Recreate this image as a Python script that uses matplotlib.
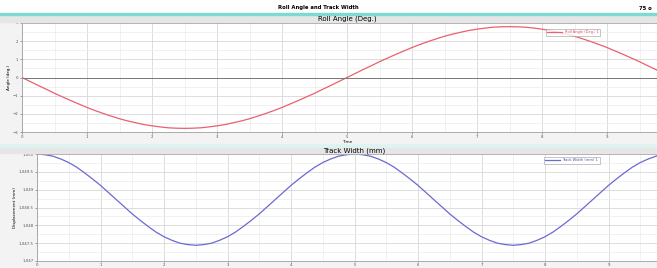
import matplotlib.pyplot as plt
from matplotlib.ticker import MultipleLocator
from matplotlib.patches import Rectangle

# valores, cada 0.125 s
time = [i * 0.125 for i in range(81)]
roll_deg = [0, -0.22, -0.44, -0.65, -0.87, -1.07, -1.27, -1.46, -1.65, -1.82, -1.98,
            -2.13, -2.27, -2.39, -2.49, -2.59, -2.66, -2.72, -2.77, -2.79, -2.80,
            -2.79, -2.77, -2.72, -2.66, -2.59, -2.49, -2.39, -2.27, -2.13, -1.98,
            -1.82, -1.65, -1.46, -1.27, -1.07, -0.87, -0.65, -0.44, -0.22, 0,
            0.22, 0.44, 0.65, 0.87, 1.07, 1.27, 1.46, 1.65, 1.82, 1.98,
            2.13, 2.27, 2.39, 2.49, 2.59, 2.66, 2.72, 2.77, 2.79, 2.80,
            2.79, 2.77, 2.72, 2.66, 2.59, 2.49, 2.39, 2.27, 2.13, 1.98,
            1.82, 1.65, 1.46, 1.27, 1.07, 0.87, 0.65, 0.44, 0.22, 0]
track_mm = [1050.00, 1049.98, 1049.94, 1049.86, 1049.76, 1049.63, 1049.47, 1049.30, 1049.12, 1048.92, 1048.72,
            1048.52, 1048.32, 1048.14, 1047.97, 1047.81, 1047.68, 1047.58, 1047.50, 1047.46, 1047.44,
            1047.46, 1047.50, 1047.58, 1047.68, 1047.81, 1047.97, 1048.14, 1048.32, 1048.52, 1048.72,
            1048.92, 1049.12, 1049.30, 1049.47, 1049.63, 1049.76, 1049.86, 1049.94, 1049.98, 1050.00,
            1049.98, 1049.94, 1049.86, 1049.76, 1049.63, 1049.47, 1049.30, 1049.12, 1048.92, 1048.72,
            1048.52, 1048.32, 1048.14, 1047.97, 1047.81, 1047.68, 1047.58, 1047.50, 1047.46, 1047.44,
            1047.46, 1047.50, 1047.58, 1047.68, 1047.81, 1047.97, 1048.14, 1048.32, 1048.52, 1048.72,
            1048.92, 1049.12, 1049.30, 1049.47, 1049.63, 1049.76, 1049.86, 1049.94, 1049.98, 1050.00]
x_ticks = list(range(10))
roll_ticks = [3, 2, 1, 0, -1, -2, -3]
track_ticks = [1050, 1049.5, 1049, 1048.5, 1048, 1047.5, 1047]
track_labels = ['1,050', '1,049.5', '1,049', '1,048.5', '1,048', '1,047.5', '1,047']

W, H = 657, 268
fig = plt.figure(figsize=(W / 100, H / 100), dpi=100, facecolor='#f3f3f3')

def fx(px):
    return px / W

def fy(py):
    return 1 - py / H

# franja superior blanca + linea cian
fig.patches.append(Rectangle((0, fy(13)), 1, 13 / H, transform=fig.transFigure, color='white', zorder=0))
fig.patches.append(Rectangle((0, fy(15)), 1, 2 / H, transform=fig.transFigure, color='#7fd9d2', zorder=1))
fig.text(fx(318), fy(8), 'Roll Angle and Track Width', fontsize=3.8, fontweight='bold', ha='center', va='center')
fig.text(fx(639), fy(8), '75 o', fontsize=3.8, fontweight='bold', ha='left', va='center')

# bandas de titulo
fig.patches.append(Rectangle((0, fy(22)), 1, 7 / H, transform=fig.transFigure, color='#e6e6e6', zorder=0))
fig.patches.append(Rectangle((0, fy(148)), 1, 4 / H, transform=fig.transFigure, color='#dff3f1', zorder=0))
fig.patches.append(Rectangle((0, fy(153)), 1, 5 / H, transform=fig.transFigure, color='#e6e6e6', zorder=0))
fig.text(fx(347), fy(18.5), 'Roll Angle (Deg.)', fontsize=5, ha='center', va='center')
fig.text(fx(354), fy(150.5), 'Track Width (mm)', fontsize=5, ha='center', va='center')


def style(ax):
    ax.set_facecolor('white')
    ax.set_xlim(0, 10)
    ax.set_xticks(x_ticks)
    ax.xaxis.set_minor_locator(MultipleLocator(0.5))
    ax.grid(which='major', color='#d8d8d8', lw=0.6)
    ax.grid(which='minor', color='#ececec', lw=0.5)
    ax.tick_params(labelsize=2.8, length=1.5, width=0.4, pad=1, colors='#555555')
    ax.tick_params(which='minor', length=0)
    for s in ax.spines.values():
        s.set_color('#a0a0a0')
        s.set_linewidth(0.6)
    ax.set_axisbelow(True)


ax1 = fig.add_axes([fx(22), fy(132), (672 - 22) / W, (132 - 23) / H])
style(ax1)
ax1.plot(time, roll_deg, color='#e8616c', lw=0.9, label='Roll Angle (Deg.) 1')
ax1.axhline(0, color='#777777', lw=0.7)
ax1.set_ylim(-3, 3)
ax1.set_yticks(roll_ticks)
ax1.yaxis.set_minor_locator(MultipleLocator(0.5))
ax1.set_ylabel('Angle (deg.)', fontsize=3, labelpad=1)
ax1.set_xlabel('Time', fontsize=3, labelpad=0.5)
leg1 = ax1.legend(loc='upper left', bbox_to_anchor=(0.803, 0.965), fontsize=2.6,
                  frameon=True, fancybox=False, handlelength=4, borderpad=0.4)
leg1.get_frame().set_edgecolor('#999999')
leg1.get_frame().set_linewidth(0.5)
for t in leg1.get_texts():
    t.set_color('#d05060')

ax2 = fig.add_axes([fx(37), fy(261), (672 - 37) / W, (261 - 154) / H])
style(ax2)
ax2.plot(time, track_mm, color='#6a6ad2', lw=0.9, label='Track Width (mm) 1')
ax2.set_ylim(1047, 1050)
ax2.set_yticks(track_ticks)
ax2.set_yticklabels(track_labels)
ax2.yaxis.set_minor_locator(MultipleLocator(0.25))
ax2.tick_params(axis='x', pad=0.3, length=1)
ax2.set_ylabel('Displacement (mm)', fontsize=3, labelpad=1)
leg2 = ax2.legend(loc='upper left', bbox_to_anchor=(0.795, 0.99), fontsize=2.6,
                  frameon=True, fancybox=False, handlelength=4, borderpad=0.4)
leg2.get_frame().set_edgecolor('#999999')
leg2.get_frame().set_linewidth(0.5)
for t in leg2.get_texts():
    t.set_color('#5050b0')

fig.savefig('out.png', dpi=100, facecolor=fig.get_facecolor())
